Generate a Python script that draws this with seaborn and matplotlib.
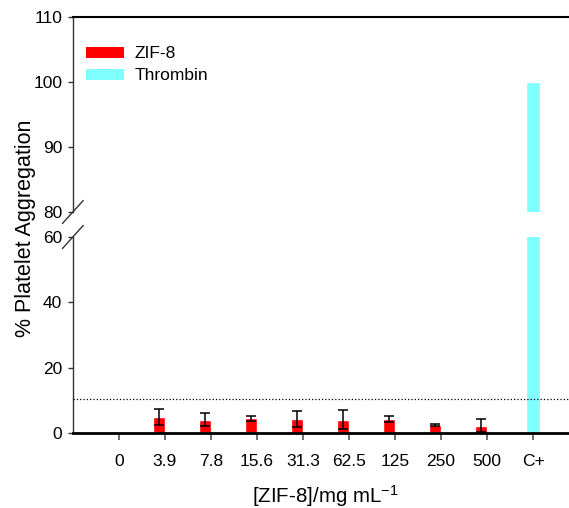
import numpy as np
import pandas as pd
import matplotlib.pyplot as plt
import seaborn as sns
from matplotlib.patches import Patch

sns.set_style('ticks')
plt.rcParams['font.family'] = ['Liberation Sans', 'DejaVu Sans']
plt.rcParams['mathtext.fontset'] = 'custom'
plt.rcParams['mathtext.rm'] = 'Liberation Sans'
plt.rcParams['mathtext.it'] = 'Liberation Sans:italic'
plt.rcParams['text.color'] = 'black'
plt.rcParams['xtick.labelcolor'] = 'black'
plt.rcParams['ytick.labelcolor'] = 'black'

# data
conc = ['0', '3.9', '7.8', '15.6', '31.3', '62.5', '125', '250', '500', 'C+']
zif8 = [0, 4.9, 4.1, 4.5, 4.3, 4.1, 4.3, 2.4, 2.2, 0]
zif8_err = [0, 2.4, 1.9, 0.8, 2.5, 3.0, 0.8, 0.3, 2.0, 0]
thrombin = [0, 0, 0, 0, 0, 0, 0, 0, 0, 100]
baseline = 10.5

df = pd.DataFrame({'conc': conc, 'zif8': zif8, 'err': zif8_err, 'thrombin': thrombin})
x = np.arange(len(conc))
shift = 0.137
red = '#ff0000'
cyan = '#80ffff'

fig = plt.figure(figsize=(5.69, 5.08), dpi=100)
ax_top = fig.add_axes([0.128, 0.5827, 0.872, 0.3838])
ax_bot = fig.add_axes([0.128, 0.1476, 0.872, 0.3859])

for ax in [ax_top, ax_bot]:
    sns.barplot(data=df, x='conc', y='thrombin', order=conc, color=cyan,
                saturation=1, width=0.30, errorbar=None, ax=ax)

# ZIF-8 bars sit a bit left of the tick
n = len(ax_bot.patches)
sns.barplot(data=df, x='conc', y='zif8', order=conc, color=red,
            saturation=1, width=0.26, errorbar=None, ax=ax_bot)
for p in ax_bot.patches[n:]:
    p.set_x(p.get_x() - shift)
    p.set_zorder(2)

m = df['err'] > 0
ax_bot.errorbar(x[m] - shift, df['zif8'][m], yerr=df['err'][m], fmt='none',
                ecolor='black', elinewidth=1.1, capsize=3.5, capthick=1.1, zorder=3)
ax_bot.axhline(baseline, ls=':', color='black', lw=0.9, zorder=4)

# axes limits / ticks
for ax in [ax_top, ax_bot]:
    ax.set_xlim(-1.0, 9.78)
    ax.set_xlabel('')
    ax.set_ylabel('')
    ax.spines['right'].set_visible(False)
    ax.spines['left'].set_color('#333333')
    ax.spines['left'].set_linewidth(1.0)
    ax.tick_params(axis='y', direction='out', length=3.6, width=1.0,
                   color='#333333', labelcolor='black', labelsize=12.5, pad=4)

ax_top.set_ylim(80, 110)
ax_top.set_yticks([80, 90, 100, 110])
ax_top.spines['bottom'].set_visible(False)
ax_top.spines['top'].set_color('black')
ax_top.spines['top'].set_linewidth(1.5)
ax_top.set_xticks([])

ax_bot.set_ylim(0, 60)
ax_bot.set_yticks([0, 20, 40, 60])
ax_bot.spines['top'].set_visible(False)
ax_bot.spines['bottom'].set_color('black')
ax_bot.spines['bottom'].set_linewidth(2.0)
ax_bot.set_xticks(x)
ax_bot.set_xticklabels(conc)
ax_bot.tick_params(axis='x', direction='out', length=5, width=1.2,
                   color='#555555', labelcolor='black', labelsize=12.5, pad=10)

# axis break marks
d, e = 0.021, 0.059
kw = dict(color='#333333', lw=1.0, clip_on=False)
ax_top.plot([-d, d], [-e, e], transform=ax_top.transAxes, **kw)
ax_bot.plot([-d, d], [1 - e, 1 + e], transform=ax_bot.transAxes, **kw)

# labels
fig.text(0.044, 0.551, '% Platelet Aggregation', rotation=90,
         ha='center', va='center', fontsize=15.5, color='black')
ax_bot.set_xlabel('[ZIF-8]/mg mL$^{-1}$', fontsize=14.8, color='black')
ax_bot.xaxis.set_label_coords(0.508, -0.255)

handles = [Patch(facecolor=red, edgecolor='none', label='ZIF-8'),
           Patch(facecolor=cyan, edgecolor='none', label='Thrombin')]
ax_top.legend(handles=handles, loc='upper left', bbox_to_anchor=(0.026, 0.85),
              frameon=False, borderpad=0, borderaxespad=0, handlelength=2.2,
              handleheight=0.6, handletextpad=0.6, labelspacing=0.4, fontsize=12.5)

fig.savefig('out.png', dpi=100)
